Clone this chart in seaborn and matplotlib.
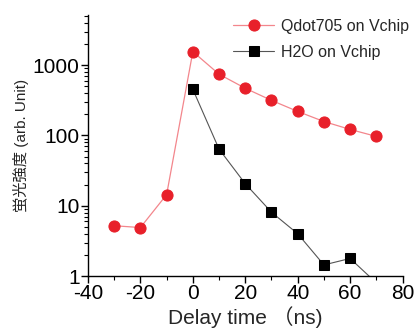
import numpy as np
import pandas as pd
import seaborn as sns
import matplotlib.pyplot as plt
from matplotlib.ticker import MultipleLocator, LogLocator, NullFormatter

# data
delay = [-30, -20, -10, 0, 10, 20, 30, 40, 50, 60, 70]
qdot_vals = [5.2, 4.9, 14.4, 1560, 745, 470, 316, 220, 158, 122, 97]
h2o_delay = [0, 10, 20, 30, 40, 50, 60, 70]
h2o_vals = [454, 64, 20.6, 8.1, 4.0, 1.44, 1.78, 0.8]

qdot_label = "Qdot705 on Vchip"
h2o_label = "H2O on Vchip"

sns.set_style("ticks")
plt.rcParams["font.family"] = ["Liberation Sans", "Noto Sans CJK JP"]
plt.rcParams["axes.unicode_minus"] = False

df_q = pd.DataFrame({"delay": delay, "val": qdot_vals})
df_h = pd.DataFrame({"delay": h2o_delay, "val": h2o_vals})

fig = plt.figure(figsize=(4.15, 3.31), dpi=100)
ax = fig.add_axes([0.212, 0.166, 0.758, 0.789])

sns.lineplot(data=df_q, x="delay", y="val", ax=ax, color="#f3868c", linewidth=0.9,
             marker="o", markersize=8, markerfacecolor="#e8202a", markeredgecolor="#e8202a",
             label=qdot_label, clip_on=True)
sns.lineplot(data=df_h, x="delay", y="val", ax=ax, color="#555555", linewidth=0.8,
             marker="s", markersize=7, markerfacecolor="black", markeredgecolor="black",
             label=h2o_label, clip_on=True)

ax.set_yscale("log")
ax.set_xlim(-40, 80)
ax.set_ylim(1, 5200)
ax.xaxis.set_major_locator(MultipleLocator(20))
ax.xaxis.set_minor_locator(MultipleLocator(10))
ax.yaxis.set_minor_locator(LogLocator(base=10, subs=np.arange(2, 10), numticks=20))
ax.yaxis.set_minor_formatter(NullFormatter())
ax.set_yticks([1, 10, 100, 1000])
ax.set_yticklabels(["1", "10", "100", "1000"])

ax.tick_params(axis="both", which="major", direction="out", length=5, width=1,
               labelsize=15, pad=1, color="black", labelcolor="black")
ax.tick_params(axis="both", which="minor", direction="out", length=3, width=0.8, color="black")

sns.despine(ax=ax)
for s in ["left", "bottom"]:
    ax.spines[s].set_color("black")
    ax.spines[s].set_linewidth(1.0)

ax.set_xlabel("Delay time （ns)", fontsize=15, labelpad=2)
ax.set_ylabel("蛍光強度 (arb. Unit)", fontsize=11, labelpad=3)

ax.legend(loc="upper left", bbox_to_anchor=(0.44, 1.01), frameon=False, fontsize=11.5,
          handlelength=2.6, handletextpad=0.4, labelspacing=0.7, borderaxespad=0)

fig.savefig("out.png", dpi=100)
